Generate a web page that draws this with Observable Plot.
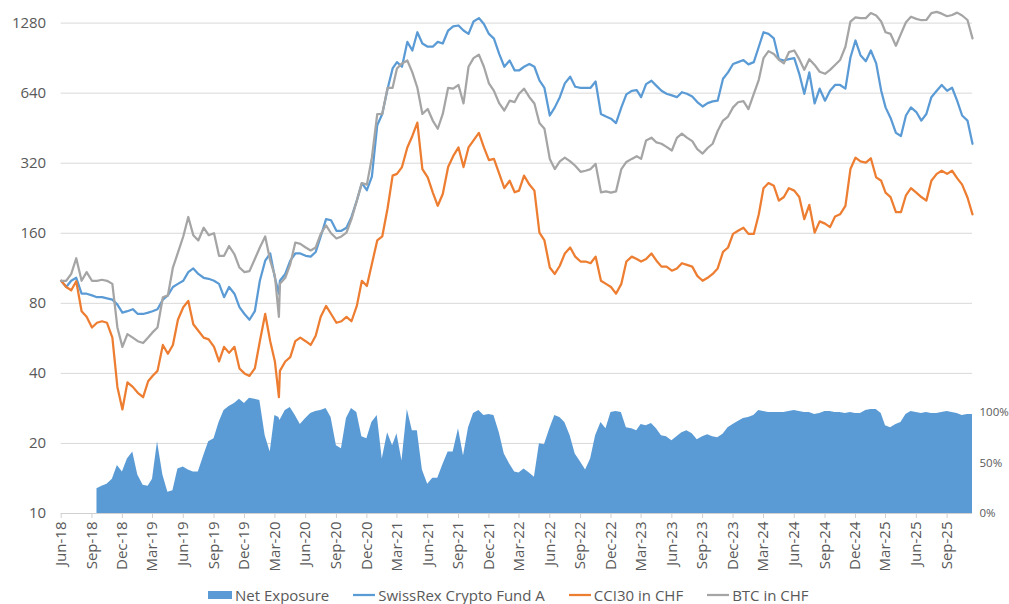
<!DOCTYPE html>
<html>
<head>
<meta charset="utf-8">
<script src="https://cdn.jsdelivr.net/npm/d3@7"></script>
<script src="https://cdn.jsdelivr.net/npm/@observablehq/plot@0.6"></script>
<style>
  html, body { margin: 0; padding: 0; background: #fff; overflow: hidden; }
  #wrap { position: relative; width: 1009px; height: 604px; font-family: 'Open Sans', sans-serif; }
  #chart { position: absolute; left: 0; top: 0; width: 1009px; height: 580px; }
  #chart svg { position: absolute; left: 0; top: 0; background: transparent; }
  #legend { position: absolute; top: 585px; left: 208px; display: flex; align-items: center;
            font: 15px 'Open Sans', sans-serif; color: #595959; line-height: 20px; white-space: nowrap; }
  #legend .sw { display: block; margin-right: 3px; }
  #legend .lab { margin-right: 24px; }
</style>
</head>
<body>
<div id="wrap">
  <div id="chart"></div>
  <div id="legend"></div>
</div>
<script>
// ---------- DATA (semi-monthly readings, indexed to 100 at start) ----------
const dates = [
  "2018-06-01","2018-06-16","2018-07-01","2018-07-16","2018-08-01","2018-08-16","2018-09-01","2018-09-16","2018-10-01","2018-10-16","2018-11-01","2018-11-16","2018-12-01","2018-12-16",
  "2019-01-01","2019-01-16","2019-02-01","2019-02-16","2019-03-01","2019-03-16","2019-04-01","2019-04-16","2019-05-01","2019-05-16","2019-06-01","2019-06-16","2019-07-01","2019-07-16","2019-08-01","2019-08-16","2019-09-01","2019-09-16","2019-10-01","2019-10-16","2019-11-01","2019-11-16","2019-12-01","2019-12-16",
  "2020-01-01","2020-01-16","2020-02-01","2020-02-16","2020-03-01","2020-03-13","2020-03-16","2020-04-01","2020-04-16","2020-05-01","2020-05-16","2020-06-01","2020-06-16","2020-07-01","2020-07-16","2020-08-01","2020-08-16","2020-09-01","2020-09-16","2020-10-01","2020-10-16","2020-11-01","2020-11-16","2020-12-01","2020-12-16",
  "2021-01-01","2021-01-16","2021-02-01","2021-02-16","2021-03-01","2021-03-16","2021-04-01","2021-04-16","2021-05-01","2021-05-16","2021-06-01","2021-06-16","2021-07-01","2021-07-16","2021-08-01","2021-08-16","2021-09-01","2021-09-16","2021-10-01","2021-10-16","2021-11-01","2021-11-16","2021-12-01","2021-12-16",
  "2022-01-01","2022-01-16","2022-02-01","2022-02-16","2022-03-01","2022-03-16","2022-04-01","2022-04-16","2022-05-01","2022-05-16","2022-06-01","2022-06-16","2022-07-01","2022-07-16","2022-08-01","2022-08-16","2022-09-01","2022-09-16","2022-10-01","2022-10-16","2022-11-01","2022-11-16","2022-12-01","2022-12-16",
  "2023-01-01","2023-01-16","2023-02-01","2023-02-16","2023-03-01","2023-03-16","2023-04-01","2023-04-16","2023-05-01","2023-05-16","2023-06-01","2023-06-16","2023-07-01","2023-07-16","2023-08-01","2023-08-16","2023-09-01","2023-09-16","2023-10-01","2023-10-16","2023-11-01","2023-11-16","2023-12-01","2023-12-16",
  "2024-01-01","2024-01-16","2024-02-01","2024-02-16","2024-03-01","2024-03-16","2024-04-01","2024-04-16","2024-05-01","2024-05-16","2024-06-01","2024-06-16","2024-07-01","2024-07-16","2024-08-01","2024-08-16","2024-09-01","2024-09-16","2024-10-01","2024-10-16","2024-11-01","2024-11-16","2024-12-01","2024-12-16",
  "2025-01-01","2025-01-16","2025-02-01","2025-02-16","2025-03-01","2025-03-16","2025-04-01","2025-04-16","2025-05-01","2025-05-16","2025-06-01","2025-06-16","2025-07-01","2025-07-16","2025-08-01","2025-08-16","2025-09-01","2025-09-16","2025-10-01","2025-10-16","2025-11-01","2025-11-16"
];

const swissRexFund = [
  100,94,100,103,88,88,86.5,85,85,84,83,79,73,74,
  75.5,72,72,73,74,75.5,83,86.5,94,97,100,109,113,107,103,102,100,97,85,94,88,77,72,68,
  74,100,122,131,103,88,100,107,122,131,131,128,127,133,155,184,182,164,164,169,188,221,263,245,280,
  466,521,669,817,870,831,1063,976,1169,1046,1013,1013,1063,1046,1189,1240,1250,1189,1150,1300,1345,1270,1150,1098,
  942,831,884,801,801,831,854,831,726,674,513,556,615,705,753,682,675,675,675,718,521,508,497,476,
  556,632,655,659,615,700,724,688,655,636,626,615,646,636,619,586,561,580,590,594,738,786,854,870,
  888,851,870,1013,1169,1150,1100,896,884,896,905,775,636,786,578,669,594,655,694,694,669,911,1078,932,
  878,976,859,655,556,501,432,419,513,556,531,488,521,615,655,694,655,675,594,513,488,388
];

const cci30Chf = [
  100,94,91,99.6,74,70,63,66,67,66,57,35,28,36.6,
  35,33,31.6,37,39,41,53,48.6,53,68,77,82,65,61,57,56,52,45,52,49,52,42,40,39,
  42,55,72,55,45,31.6,41,45,47,55,57,55,53,58,70,78,72,66,67,70,67,78,100,95,118,
  149,155,205,283,288,308,374,419,478,302,278,240,210,236,308,343,374,308,374,401,432,374,330,334,
  288,250,269,240,244,283,259,244,161,149,114,107,116,131,139,127,121,121,119,127,100,97,94,88,
  97,121,127,124,121,124,131,122,115,115,110.5,113,119,117,115,105,100,103,107,113,133,139,159,164,
  169,159,159,193,250,263,256,221,229,250,244,229,184,212,161,180,176,170,189,193,210,302,338,326,
  322,336,278,269,239,229,197,197,233,250,239,229,221,269,288,297,288,297,276,259,228,193
];

const btcChf = [
  100,100,107,125,100,109,100,100,101,100,97,63,52,59,
  57,55,54,57,60,63,85,86.5,114,132,155,188,157,149,169,157,160,128,128,141,130,114,109,110,
  124,139,155,122,105,70,97,103,118,146,144,139,135,139,159,173,160,152,155,161,184,221,263,259,338,
  520,521,675,675,817,859,884,786,675,521,547,488,450,521,675,669,694,578,831,905,937,831,705,655,
  578,539,594,586,636,669,615,578,476,450,334,302,326,338,326,312,294,297,302,318,240,242,239,242,
  302,324,334,343,334,401,412,393,388,376,363,411,429,412,398,368,352,372,388,440,488,508,556,585,
  592,547,636,730,905,970,942,890,859,960,976,896,806,896,846,791,775,806,846,888,1013,1300,1354,1345,
  1345,1414,1380,1300,1169,1150,1023,1150,1290,1363,1335,1317,1320,1414,1430,1405,1370,1387,1420,1380,1320,1100
];

// Net exposure as a fraction (right axis), starts end of Sep 2018
const netExposure = [
  null,null,null,null,null,null,null,0.245,0.27,0.29,0.34,0.475,0.41,0.54,
  0.61,0.38,0.28,0.27,0.34,0.71,0.38,0.21,0.225,0.44,0.46,0.43,0.41,0.41,0.57,0.71,0.74,0.90,1.02,1.06,1.09,1.13,1.09,1.14,
  1.13,1.12,0.77,0.61,0.97,0.95,0.92,1.02,1.05,0.97,0.88,0.94,0.99,1.01,1.02,1.04,0.95,0.67,0.64,0.94,1.04,1.00,0.76,0.74,0.90,
  0.97,0.54,0.80,0.67,0.79,0.52,1.03,0.82,0.82,0.43,0.29,0.35,0.35,0.48,0.61,0.61,0.84,0.57,0.85,0.99,1.02,0.97,0.98,0.97,
  0.80,0.59,0.49,0.41,0.40,0.44,0.40,0.36,0.69,0.68,0.84,0.97,0.95,0.90,0.77,0.59,0.51,0.43,0.54,0.77,0.90,0.84,1.00,1.01,
  1.00,0.85,0.84,0.82,0.88,0.87,0.89,0.84,0.77,0.76,0.72,0.76,0.80,0.82,0.79,0.73,0.76,0.78,0.76,0.75,0.785,0.85,0.88,0.91,
  0.94,0.95,0.97,1.02,1.01,1.00,1.00,1.00,1.00,1.01,1.02,1.01,1.00,1.00,0.98,0.99,1.01,1.01,1.00,1.00,0.99,1.00,0.99,0.99,
  1.02,1.03,1.03,0.99,0.87,0.85,0.88,0.90,0.98,1.01,1.00,0.99,1.00,0.99,0.99,1.00,1.01,1.00,0.99,0.97,0.98,0.98
];

const leftTicks = [10, 20, 40, 80, 160, 320, 640, 1280];
const rightTicks = [0, 0.5, 1];
const xTickDates = [
  "2018-06-01","2018-09-01","2018-12-01","2019-03-01","2019-06-01","2019-09-01","2019-12-01","2020-03-01","2020-06-01","2020-09-01",
  "2020-12-01","2021-03-01","2021-06-01","2021-09-01","2021-12-01","2022-03-01","2022-06-01","2022-09-01","2022-12-01","2023-03-01",
  "2023-06-01","2023-09-01","2023-12-01","2024-03-01","2024-06-01","2024-09-01","2024-12-01","2025-03-01","2025-06-01","2025-09-01"
];
const xDomain = ["2018-06-01", "2025-11-16"];

const seriesNames = ["Net Exposure", "SwissRex Crypto Fund A", "CCI30 in CHF", "BTC in CHF"];
const seriesColors = ["#5B9BD5", "#5B9BD5", "#ED7D31", "#A5A5A5"];

// ---------- BUILD ----------
const rows = dates.map((d, i) => ({
  date: new Date(d + "T00:00:00Z"),
  fund: swissRexFund[i], cci: cci30Chf[i], btc: btcChf[i], exposure: netExposure[i]
}));
const expRows = rows.filter(r => r.exposure != null);

const W = 1009, H = 580;
const mL = 60.7, mR = 37, yTopPx = 22.6, yBotPx = 513;
const xScale = { type: "utc", domain: xDomain.map(d => new Date(d + "T00:00:00Z")), range: [mL, W - mR] };
const common = {
  width: W, height: H, marginLeft: mL, marginRight: mR, marginTop: yTopPx, marginBottom: H - yBotPx,
  style: { fontFamily: "'Open Sans', sans-serif", color: "#595959", background: "transparent", overflow: "visible" }
};
const fmtMonth = d3.utcFormat("%b-%y");

// Layer 1: grid + left axis + x axis
const base = Plot.plot({
  ...common,
  x: { ...xScale, axis: null },
  y: { type: "log", base: 2, domain: [10, 1280], range: [yBotPx, yTopPx], axis: null },
  marks: [
    Plot.ruleY(leftTicks.slice(1), { stroke: "#d9d9d9", strokeWidth: 1 }),
    Plot.ruleY([10], { stroke: "#d0d0d0", strokeWidth: 1 }),
    Plot.axisY({ ticks: leftTicks, tickFormat: d => String(d), tickSize: 0, tickPadding: 15, fontSize: 15, fill: "#595959", label: null }),
    Plot.axisX({ ticks: xTickDates.map(d => new Date(d + "T00:00:00Z")), tickFormat: fmtMonth, tickRotate: -90,
                 tickSize: 5, tickPadding: 3, fontSize: 15, fill: "#595959", stroke: "#d0d0d0", label: null })
  ]
});

// Layer 2: net exposure area + right axis
const area = Plot.plot({
  ...common,
  x: { ...xScale, axis: null },
  y: { type: "linear", domain: [0, 1], range: [yBotPx, 412], axis: null },
  marks: [
    Plot.areaY(expRows, { x: "date", y: "exposure", fill: seriesColors[0], curve: "linear" }),
    Plot.axisY({ anchor: "right", ticks: rightTicks, tickFormat: d => Math.round(d * 100) + "%",
                 tickSize: 0, tickPadding: 7, fontSize: 11.5, fill: "#595959", label: null })
  ]
});

// Layer 3: lines
const lines = Plot.plot({
  ...common,
  x: { ...xScale, axis: null },
  y: { type: "log", base: 2, domain: [10, 1280], range: [yBotPx, yTopPx], axis: null },
  marks: [
    Plot.lineY(rows, { x: "date", y: "fund", stroke: seriesColors[1], strokeWidth: 2.25, strokeLinejoin: "round" }),
    Plot.lineY(rows, { x: "date", y: "cci", stroke: seriesColors[2], strokeWidth: 2.25, strokeLinejoin: "round" }),
    Plot.lineY(rows, { x: "date", y: "btc", stroke: seriesColors[3], strokeWidth: 2.25, strokeLinejoin: "round" })
  ]
});

const chart = document.getElementById("chart");
[base, area, lines].forEach(svg => {
  svg.style.position = "absolute"; svg.style.left = "0px"; svg.style.top = "0px";
  svg.style.background = "transparent"; svg.style.maxWidth = "none";
  chart.appendChild(svg);
});

// Legend
const legend = document.getElementById("legend");
seriesNames.forEach((name, i) => {
  const ns = "http://www.w3.org/2000/svg";
  const s = document.createElementNS(ns, "svg");
  s.setAttribute("class", "sw");
  if (i === 0) {
    s.setAttribute("width", 24); s.setAttribute("height", 10);
    const r = document.createElementNS(ns, "rect");
    r.setAttribute("x", 0); r.setAttribute("y", 1); r.setAttribute("width", 24); r.setAttribute("height", 8);
    r.setAttribute("fill", seriesColors[i]);
    s.appendChild(r);
  } else {
    s.setAttribute("width", 22); s.setAttribute("height", 10);
    const l = document.createElementNS(ns, "line");
    l.setAttribute("x1", 0); l.setAttribute("x2", 22); l.setAttribute("y1", 5); l.setAttribute("y2", 5);
    l.setAttribute("stroke", seriesColors[i]); l.setAttribute("stroke-width", 2.25);
    s.appendChild(l);
  }
  const t = document.createElement("span");
  t.className = "lab"; t.textContent = name;
  legend.appendChild(s); legend.appendChild(t);
});
</script>
</body>
</html>
